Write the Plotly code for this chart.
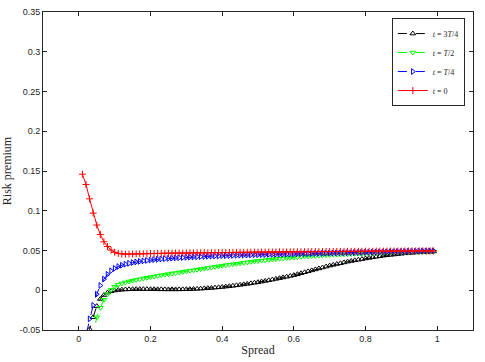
import plotly.graph_objects as go

spread = [
    0.01, 0.02, 0.03, 0.04, 0.05, 0.06, 0.07, 0.08, 0.09, 0.10,
    0.11, 0.12, 0.13, 0.14, 0.15, 0.16, 0.17, 0.18, 0.19, 0.20,
    0.21, 0.22, 0.23, 0.24, 0.25, 0.26, 0.27, 0.28, 0.29, 0.30,
    0.31, 0.32, 0.33, 0.34, 0.35, 0.36, 0.37, 0.38, 0.39, 0.40,
    0.41, 0.42, 0.43, 0.44, 0.45, 0.46, 0.47, 0.48, 0.49, 0.50,
    0.51, 0.52, 0.53, 0.54, 0.55, 0.56, 0.57, 0.58, 0.59, 0.60,
    0.61, 0.62, 0.63, 0.64, 0.65, 0.66, 0.67, 0.68, 0.69, 0.70,
    0.71, 0.72, 0.73, 0.74, 0.75, 0.76, 0.77, 0.78, 0.79, 0.80,
    0.81, 0.82, 0.83, 0.84, 0.85, 0.86, 0.87, 0.88, 0.89, 0.90,
    0.91, 0.92, 0.93, 0.94, 0.95, 0.96, 0.97, 0.98, 0.99,
]

# t = 3T/4
premium_3q = [
    -0.100, -0.075, -0.049, -0.034, -0.020, -0.011, -0.006, -0.003, -0.0012, -0.0003,
    0.0003, 0.0007, 0.0010, 0.0012, 0.0013, 0.0014, 0.0014, 0.0014, 0.0014, 0.0013,
    0.0013, 0.0012, 0.0012, 0.0011, 0.0011, 0.0011, 0.0011, 0.0011, 0.0012, 0.0013,
    0.0014, 0.0016, 0.0018, 0.0020, 0.0023, 0.0026, 0.0029, 0.0033, 0.0037, 0.0041,
    0.0046, 0.0051, 0.0056, 0.0062, 0.0068, 0.0074, 0.0080, 0.0087, 0.0094, 0.0101,
    0.0109, 0.0117, 0.0125, 0.0134, 0.0143, 0.0152, 0.0161, 0.0170, 0.0180, 0.0190,
    0.0202, 0.0214, 0.0226, 0.0238, 0.0250, 0.0262, 0.0274, 0.0286, 0.0298, 0.0310,
    0.0320, 0.0330, 0.0340, 0.0350, 0.0360, 0.0368, 0.0376, 0.0384, 0.0392, 0.0400,
    0.0407, 0.0414, 0.0421, 0.0428, 0.0435, 0.0440, 0.0445, 0.0450, 0.0455, 0.0460,
    0.0464, 0.0468, 0.0472, 0.0475, 0.0478, 0.0481, 0.0484, 0.0486, 0.0488,
]

# t = T/2
premium_half = [
    -0.130, -0.105, -0.080, -0.058, -0.034, -0.022, -0.012, -0.005, 0.0005, 0.0045,
    0.0068, 0.0085, 0.0098, 0.0110, 0.0120, 0.0130, 0.0139, 0.0148, 0.0157, 0.0165,
    0.0173, 0.0181, 0.0189, 0.0196, 0.0203, 0.0210, 0.0217, 0.0224, 0.0231, 0.0238,
    0.0245, 0.0252, 0.0259, 0.0266, 0.0273, 0.0280, 0.0287, 0.0294, 0.0301, 0.0308,
    0.0315, 0.0321, 0.0327, 0.0333, 0.0339, 0.0345, 0.0351, 0.0357, 0.0363, 0.0368,
    0.0373, 0.0378, 0.0383, 0.0388, 0.0393, 0.0397, 0.0401, 0.0405, 0.0409, 0.0413,
    0.0417, 0.0421, 0.0424, 0.0427, 0.0430, 0.0433, 0.0436, 0.0439, 0.0442, 0.0445,
    0.0447, 0.0449, 0.0451, 0.0453, 0.0455, 0.0457, 0.0459, 0.0461, 0.0463, 0.0465,
    0.0467, 0.0469, 0.0470, 0.0471, 0.0472, 0.0473, 0.0474, 0.0475, 0.0476, 0.0477,
    0.0478, 0.0479, 0.0480, 0.0481, 0.0482, 0.0483, 0.0484, 0.0485, 0.0486,
]

# t = T/4
premium_1q = [
    -0.075, -0.056, -0.036, -0.019, -0.005, 0.006, 0.014, 0.020, 0.0245, 0.0275,
    0.0298, 0.0315, 0.0328, 0.0339, 0.0348, 0.0356, 0.0363, 0.0369, 0.0375, 0.0380,
    0.0385, 0.0389, 0.0393, 0.0397, 0.0400, 0.0403, 0.0406, 0.0409, 0.0412, 0.0414,
    0.0417, 0.0419, 0.0421, 0.0423, 0.0425, 0.0427, 0.0429, 0.0431, 0.0432, 0.0434,
    0.0435, 0.0437, 0.0438, 0.0440, 0.0441, 0.0442, 0.0443, 0.0445, 0.0446, 0.0447,
    0.0448, 0.0449, 0.0450, 0.0451, 0.0452, 0.0453, 0.0454, 0.0455, 0.0456, 0.0457,
    0.0458, 0.0459, 0.0460, 0.0461, 0.0462, 0.0463, 0.0464, 0.0465, 0.0466, 0.0467,
    0.0468, 0.0469, 0.0470, 0.0471, 0.0472, 0.0473, 0.0474, 0.0475, 0.0476, 0.0477,
    0.0478, 0.0479, 0.0480, 0.0481, 0.0482, 0.0483, 0.0484, 0.0485, 0.0486, 0.0487,
    0.0488, 0.0489, 0.0490, 0.0491, 0.0492, 0.0493, 0.0494, 0.0495, 0.0496,
]

# t = 0
premium_zero = [
    0.146, 0.133, 0.115, 0.097, 0.082, 0.070, 0.061, 0.055, 0.0505, 0.0478,
    0.0463, 0.0457, 0.0455, 0.0455, 0.0456, 0.0457, 0.0458, 0.0459, 0.0460, 0.0461,
    0.0462, 0.0463, 0.0464, 0.0465, 0.0466, 0.0466, 0.0467, 0.0468, 0.0468, 0.0469,
    0.0470, 0.0470, 0.0471, 0.0471, 0.0472, 0.0472, 0.0473, 0.0473, 0.0474, 0.0474,
    0.0475, 0.0475, 0.0476, 0.0476, 0.0477, 0.0477, 0.0478, 0.0478, 0.0479, 0.0479,
    0.0480, 0.0480, 0.0481, 0.0481, 0.0482, 0.0482, 0.0482, 0.0483, 0.0483, 0.0484,
    0.0484, 0.0484, 0.0485, 0.0485, 0.0486, 0.0486, 0.0486, 0.0487, 0.0487, 0.0487,
    0.0488, 0.0488, 0.0488, 0.0489, 0.0489, 0.0489, 0.0490, 0.0490, 0.0490, 0.0491,
    0.0491, 0.0491, 0.0492, 0.0492, 0.0492, 0.0492, 0.0493, 0.0493, 0.0493, 0.0493,
    0.0494, 0.0494, 0.0494, 0.0494, 0.0495, 0.0495, 0.0495, 0.0495, 0.0495,
]

x_ticks = [0, 0.2, 0.4, 0.6, 0.8, 1]
x_tick_labels = ["0", "0.2", "0.4", "0.6", "0.8", "1"]
y_ticks = [-0.05, 0, 0.05, 0.1, 0.15, 0.2, 0.25, 0.3, 0.35]
y_tick_labels = ["-0.05", "0", "0.05", "0.1", "0.15", "0.2", "0.25", "0.3", "0.35"]

series = [
    ("<i>t</i> = 3<i>T</i>/4", premium_3q, "#000000", "triangle-up-open", "dash"),
    ("<i>t</i> = <i>T</i>/2", premium_half, "#00ff00", "triangle-down-open", "dash"),
    ("<i>t</i> = <i>T</i>/4", premium_1q, "#0000ff", "triangle-right-open", "dash"),
    ("<i>t</i> = 0", premium_zero, "#ff0000", "cross-thin", "solid"),
]

fig = go.Figure()
for name, values, color, symbol, dash in series:
    fig.add_trace(
        go.Scatter(
            x=spread,
            y=values,
            name=name,
            mode="lines+markers",
            line={"color": color, "width": 1, "dash": dash},
            marker={"symbol": symbol, "size": 5, "color": color, "line": {"color": color, "width": 1}},
        )
    )

serif = "Liberation Serif, Times New Roman, serif"
sans = "Liberation Sans, Arial, sans-serif"
axis_style = {
    "showline": True,
    "linecolor": "#262626",
    "linewidth": 1,
    "mirror": "ticks",
    "ticks": "inside",
    "ticklen": 4,
    "tickcolor": "#262626",
    "showgrid": False,
    "zeroline": False,
    "automargin": False,
    "tickfont": {"family": sans, "size": 9, "color": "#262626"},
}

fig.update_xaxes(
    range=[-0.1, 1.1],
    tickvals=x_ticks,
    ticktext=x_tick_labels,
    title={"text": "Spread", "font": {"family": serif, "size": 12, "color": "#262626"}, "standoff": 2},
    **axis_style,
)
fig.update_yaxes(
    range=[-0.05, 0.35],
    tickvals=y_ticks,
    ticktext=y_tick_labels,
    title={"text": "Risk premium", "font": {"family": serif, "size": 12, "color": "#262626"}, "standoff": 8},
    **axis_style,
)

fig.update_layout(
    width=485,
    height=362,
    template="simple_white",
    paper_bgcolor="white",
    plot_bgcolor="white",
    margin={"l": 43, "r": 12, "t": 12, "b": 32},
    showlegend=True,
    legend={
        "x": 0.981,
        "y": 0.981,
        "xanchor": "right",
        "yanchor": "top",
        "bordercolor": "#262626",
        "borderwidth": 1,
        "bgcolor": "white",
        "font": {"family": serif, "size": 8, "color": "#262626"},
        "tracegroupgap": 0,
        "itemwidth": 30,
    },
)

# the page's default body margin would push the figure 8px off the window
fig.write_html(
    "out.html",
    config={"displayModeBar": False},
    post_script="document.body.style.margin = '0px';",
)
